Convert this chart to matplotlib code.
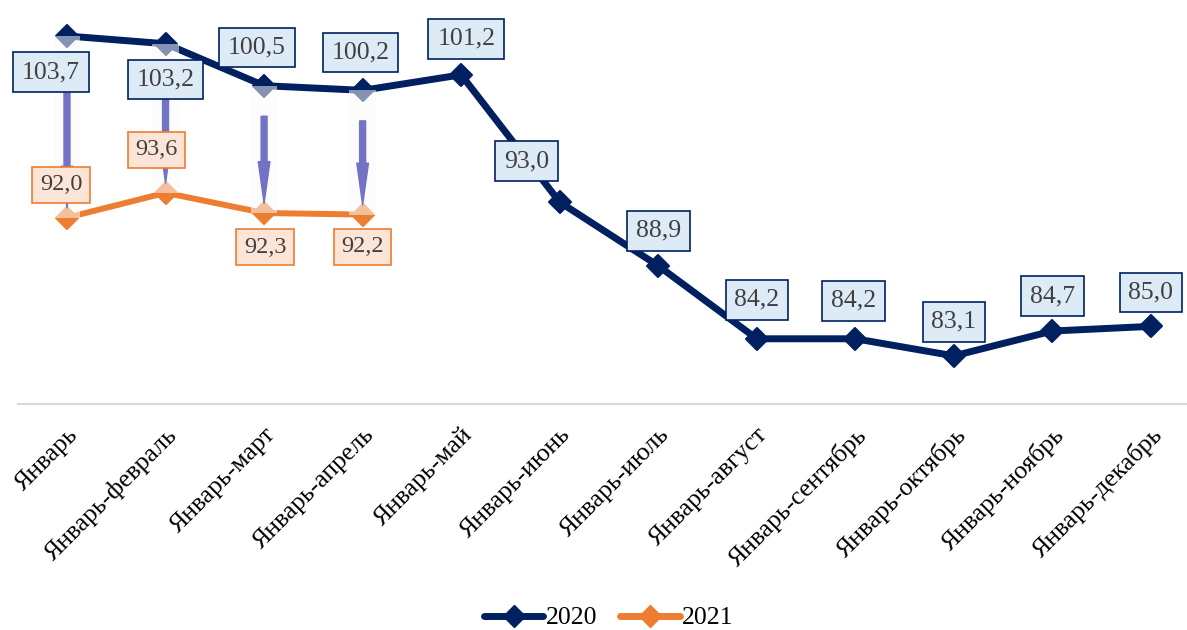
import matplotlib
matplotlib.use("Agg")
import matplotlib.pyplot as plt
from matplotlib.lines import Line2D
from matplotlib.markers import MarkerStyle
from matplotlib.patches import FancyArrowPatch, Rectangle

plt.rcParams['font.family'] = ['Liberation Serif', 'DejaVu Serif']

categories = ["Январь", "Январь-февраль", "Январь-март", "Январь-апрель", "Январь-май",
              "Январь-июнь", "Январь-июль", "Январь-август", "Январь-сентябрь",
              "Январь-октябрь", "Январь-ноябрь", "Январь-декабрь"]
values_2020 = [103.7, 103.2, 100.5, 100.2, 101.2, 93.0, 88.9, 84.2, 84.2, 83.1, 84.7, 85.0]
values_2021 = [92.0, 93.6, 92.3, 92.2]
series_names = ["2020", "2021"]

# label offsets (pixels, x right / y up)
off_2020 = [(-16, -36), (0, -36), (-7, 38), (-2, 38), (5, 36), (-33, 41),
            (0, 35), (0, 39), (-2, 38), (0, 34), (0, 35), (0, 34)]
off_2021 = [(-6, 33), (-9, 43), (1, -34), (0, -32)]
arrow_shrinkA = [41, 40, 22, 22]

NAVY = '#002060'
ORANGE = '#ED7D31'

fig = plt.figure(figsize=(11.87, 6.30), dpi=100)
x0 = 17.73 / 1187
ax = fig.add_axes([x0, 1 - 404 / 630, 1 - x0, (404 - 15.8) / 630])
ax.set_xlim(-0.5, (1187 - 67) / 98.545)
ax.set_ylim(80, 105)

xs20 = list(range(len(values_2020)))
xs21 = list(range(len(values_2021)))

mk = MarkerStyle('D', joinstyle='round')
ax.plot(xs20, values_2020, color=NAVY, lw=5, marker=mk, ms=11.5, mec=NAVY, mew=1.5,
        solid_joinstyle='round', zorder=3, clip_on=False)
ax.plot(xs21, values_2021, color=ORANGE, lw=4.3, marker=mk, ms=11.5, mec=ORANGE, mew=1.5,
        solid_joinstyle='round', zorder=3, clip_on=False)

# faint bands + arrows
for i in xs21:
    top, bot = values_2020[i], values_2021[i]
    ax.add_patch(Rectangle((i - 0.135, bot), 0.27, top - bot, facecolor='#fbfbfd',
                           edgecolor='none', alpha=0.53, zorder=4))
    arr = FancyArrowPatch((i, top), (i, bot),
                          arrowstyle='simple,head_length=30,head_width=8.4,tail_width=4.3',
                          mutation_scale=1, color='#7373C6', shrinkA=arrow_shrinkA[i],
                          shrinkB=7, zorder=5)
    ax.add_patch(arr)

for i, v in enumerate(values_2020):
    ax.annotate(f"{v:.1f}".replace('.', ','), (i, v), xytext=off_2020[i],
                textcoords='offset pixels', ha='center', va='center', fontsize=18.5,
                color='#404040', zorder=7, annotation_clip=False,
                bbox=dict(boxstyle='square,pad=0.34', fc='#DDEBF7', ec=NAVY, lw=1.2))
for i, v in enumerate(values_2021):
    ax.annotate(f"{v:.1f}".replace('.', ','), (i, v), xytext=off_2021[i],
                textcoords='offset pixels', ha='center', va='center', fontsize=17.5,
                color='#404040', zorder=7, annotation_clip=False,
                bbox=dict(boxstyle='square,pad=0.31', fc='#FCE4D6', ec=ORANGE, lw=1.2))

ax.set_xticks(xs20)
ax.set_xticklabels(categories, rotation=45, ha='right', rotation_mode='anchor',
                   fontsize=18.5, color='#000000')
ax.tick_params(axis='x', length=0, pad=14)
ax.set_yticks([])
for s in ['top', 'left', 'right']:
    ax.spines[s].set_visible(False)
ax.spines['bottom'].set_color('#D9D9D9')
ax.spines['bottom'].set_linewidth(1.5)

handles = [Line2D([], [], color=NAVY, lw=5, marker=mk, ms=11.5, mec=NAVY, solid_capstyle='round'),
           Line2D([], [], color=ORANGE, lw=5, marker=mk, ms=11.5, mec=ORANGE, solid_capstyle='round')]
fig.legend(handles, series_names, loc='center', bbox_to_anchor=(0.513, 12 / 630),
           ncol=2, frameon=False, fontsize=18.5, handlelength=2.3, handletextpad=0.1,
           columnspacing=0.9)

fig.savefig('out.png', dpi=100)
